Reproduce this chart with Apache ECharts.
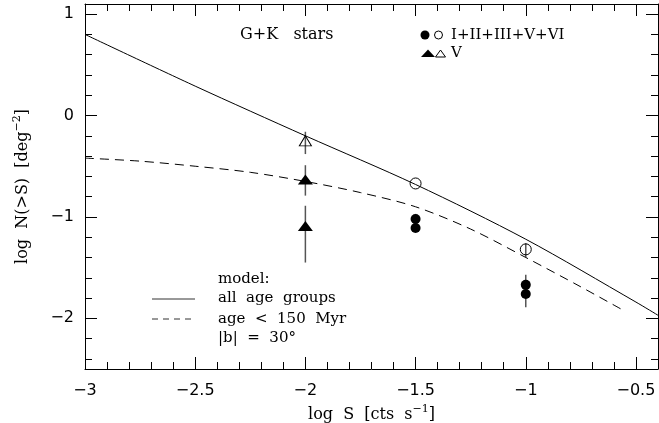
<!DOCTYPE html>
<html><head><meta charset="utf-8">
<script src="https://cdn.jsdelivr.net/npm/echarts@6/dist/echarts.min.js"></script>
<style>html,body{margin:0;padding:0;background:#fff}#c{width:659px;height:423px}</style>
</head><body><div id="c"></div>
<script>
// ---- data ----
const modelAllX = [-3, -2.5, -2, -1.5, -1, -0.5, -0.4];
const modelAllY = [0.80, 0.29, -0.20, -0.68, -1.22, -1.84, -1.97];
const modelYoungX = [-3, -2.75, -2.5, -2.25, -2, -1.75, -1.5, -1.25, -1, -0.75, -0.55];
const modelYoungY = [-0.42, -0.45, -0.50, -0.56, -0.65, -0.76, -0.90, -1.12, -1.40, -1.69, -1.93];
const filledCircleX = [-1.5, -1.5, -1, -1];
const filledCircleY = [-1.02, -1.11, -1.67, -1.76];
const openCircleX = [-1.5, -1];
const openCircleY = [-0.67, -1.32];
const filledTriX = [-2, -2];
const filledTriY = [-0.63, -1.09];
const openTriX = [-2];
const openTriY = [-0.25];
const errX  = [-2, -2, -2, -1.5, -1, -1];
const errLo = [-0.38, -0.79, -1.45, -1.15, -1.40, -1.89];
const errHi = [-0.16, -0.49, -0.89, -0.97, -1.26, -1.57];
const xMajorTicks = [-3, -2.5, -2, -1.5, -1, -0.5];
const xMinorTicks = [-2.9, -2.8, -2.7, -2.6, -2.4, -2.3, -2.2, -2.1, -1.9, -1.8, -1.7, -1.6,
                     -1.4, -1.3, -1.2, -1.1, -0.9, -0.8, -0.7, -0.6];
const yMajorTicks = [-2, -1, 0, 1];
const yMinorTicks = [-2.4, -2.2, -1.8, -1.6, -1.4, -1.2, -0.8, -0.6, -0.4, -0.2,
                     0.2, 0.4, 0.6, 0.8];

const pair = (xs, ys) => xs.map((x, i) => [x, ys[i]]);
const minus = v => String(v).replace('-', '\u2212');
const SERIF = 'DejaVu Serif';
const SANS = 'DejaVu Sans';

const gridBox = {left: 85, right: 1, top: 4, bottom: 54, containLabel: false, outerBoundsMode: 'none'};
const base = {type: 'value', splitLine: {show: false}};
const XMIN = -3, XMAX = -0.4, YMIN = -2.5, YMAX = 1.1;

function xAx(grid, pos, major) {
  return Object.assign({}, base, {
    gridIndex: grid, position: pos, min: XMIN, max: XMAX,
    axisLine: {show: major, onZero: false, lineStyle: {color: '#000', width: 1}},
    axisTick: {show: true, inside: true, length: major ? 12 : 7,
      customValues: major ? xMajorTicks : xMinorTicks, lineStyle: {color: '#000', width: 1}},
    axisLabel: (major && pos === 'bottom') ? {show: true, customValues: xMajorTicks, formatter: minus,
      fontFamily: SANS, fontSize: 16, color: '#000', margin: 14} : {show: false},
    name: (major && pos === 'bottom') ? '{t|log  S  [cts  s}{s|\u22121}{t|]}' : '',
    nameLocation: 'middle', nameGap: 30,
    nameTextStyle: {rich: {
      t: {fontFamily: SERIF, fontSize: 16, color: '#000', lineHeight: 22},
      s: {fontFamily: SERIF, fontSize: 11, color: '#000', lineHeight: 12, verticalAlign: 'top'}
    }}
  });
}
function yAx(grid, pos, major) {
  return Object.assign({}, base, {
    gridIndex: grid, position: pos, min: YMIN, max: YMAX,
    axisLine: {show: major, onZero: false, lineStyle: {color: '#000', width: 1}},
    axisTick: {show: true, inside: true, length: major ? 12 : 7,
      customValues: major ? yMajorTicks : yMinorTicks, lineStyle: {color: '#000', width: 1}},
    axisLabel: (major && pos === 'left') ? {show: true, customValues: yMajorTicks, formatter: minus,
      fontFamily: SANS, fontSize: 16, color: '#000', margin: 11} : {show: false},
    name: (major && pos === 'left') ? '{t|log  N(>S)  [deg}{s|\u22122}{t|]}' : '',
    nameLocation: 'middle', nameGap: 51, nameRotate: 90,
    nameTextStyle: {rich: {
      t: {fontFamily: SERIF, fontSize: 16, color: '#000', lineHeight: 22},
      s: {fontFamily: SERIF, fontSize: 11, color: '#000', lineHeight: 12, verticalAlign: 'top'}
    }}
  });
}

const chart = echarts.init(document.getElementById('c'), null, {renderer: 'canvas'});
const openStyle = {color: 'rgba(0,0,0,0)', borderColor: '#000', borderWidth: 1, opacity: 1};
const fillStyle = {color: '#000', opacity: 1};
chart.setOption({
  animation: false,
  backgroundColor: '#fff',
  grid: [Object.assign({}, gridBox), Object.assign({}, gridBox)],
  xAxis: [xAx(0, 'bottom', true), xAx(0, 'top', true), xAx(1, 'bottom', false), xAx(1, 'top', false)],
  yAxis: [yAx(0, 'left', true), yAx(0, 'right', true), yAx(1, 'left', false), yAx(1, 'right', false)],
  series: [
    {type: 'line', name: 'all age groups', xAxisIndex: 0, yAxisIndex: 0, data: pair(modelAllX, modelAllY),
     showSymbol: false, smooth: 0.3, lineStyle: {color: '#000', width: 1}, silent: true},
    {type: 'line', name: 'age < 150 Myr', xAxisIndex: 0, yAxisIndex: 0, data: pair(modelYoungX, modelYoungY),
     showSymbol: false, smooth: 0.3, lineStyle: {color: '#000', width: 1, type: [9, 6]}, silent: true},
    {type: 'custom', name: 'errors', xAxisIndex: 0, yAxisIndex: 0,
     data: errX.map((x, i) => [x, errLo[i], errHi[i]]),
     renderItem: (params, api) => {
       const a = api.coord([api.value(0), api.value(1)]);
       const b = api.coord([api.value(0), api.value(2)]);
       return {type: 'line', shape: {x1: a[0], y1: a[1], x2: b[0], y2: b[1]},
               style: {stroke: '#555', lineWidth: 1.5}};
     }, silent: true, z: 1},
    {type: 'scatter', name: 'I+II+III+V+VI', xAxisIndex: 0, yAxisIndex: 0, data: pair(filledCircleX, filledCircleY),
     symbol: 'circle', symbolSize: 10, itemStyle: fillStyle, z: 3},
    {type: 'scatter', name: 'I+II+III+V+VI open', xAxisIndex: 0, yAxisIndex: 0, data: pair(openCircleX, openCircleY),
     symbol: 'circle', symbolSize: 11, itemStyle: openStyle, z: 3},
    {type: 'scatter', name: 'V', xAxisIndex: 0, yAxisIndex: 0, data: pair(filledTriX, filledTriY),
     symbol: 'triangle', symbolSize: [15, 10], itemStyle: fillStyle, z: 3},
    {type: 'scatter', name: 'V open', xAxisIndex: 0, yAxisIndex: 0, data: pair(openTriX, openTriY),
     symbol: 'triangle', symbolSize: [12, 10], itemStyle: openStyle, z: 3}
  ],
  graphic: [
    {type: 'text', x: 240, y: 35, style: {text: 'G+K   stars', font: '16px "DejaVu Serif"', fill: '#000', verticalAlign: 'middle'}},
    {type: 'circle', shape: {cx: 425, cy: 35, r: 4.5}, style: {fill: '#000'}},
    {type: 'circle', shape: {cx: 438.5, cy: 35, r: 4}, style: {fill: 'none', stroke: '#000', lineWidth: 1}},
    {type: 'text', x: 451, y: 35, style: {text: 'I+II+III+V+VI', font: '15px "DejaVu Serif"', fill: '#000', verticalAlign: 'middle'}},
    {type: 'polygon', shape: {points: [[421, 57], [435, 57], [428, 49.5]]}, style: {fill: '#000'}},
    {type: 'polygon', shape: {points: [[435.5, 57], [445.5, 57], [440.5, 50]]}, style: {fill: 'none', stroke: '#000', lineWidth: 1}},
    {type: 'text', x: 451, y: 53.5, style: {text: 'V', font: '15px "DejaVu Serif"', fill: '#000', verticalAlign: 'middle'}},
    {type: 'text', x: 218, y: 279, style: {text: 'model:', font: '15px "DejaVu Serif"', fill: '#000', verticalAlign: 'middle'}},
    {type: 'line', shape: {x1: 152, y1: 299, x2: 195, y2: 299}, style: {stroke: '#333', lineWidth: 1}},
    {type: 'text', x: 218, y: 298, style: {text: 'all  age  groups', font: '15px "DejaVu Serif"', fill: '#000', verticalAlign: 'middle'}},
    {type: 'line', shape: {x1: 152, y1: 319, x2: 195, y2: 319}, style: {stroke: '#333', lineWidth: 1, lineDash: [6, 5]}},
    {type: 'text', x: 218, y: 319, style: {text: 'age  <  150  Myr', font: '15px "DejaVu Serif"', fill: '#000', verticalAlign: 'middle'}},
    {type: 'text', x: 218, y: 338, style: {text: '|b|  =  30\u00B0', font: '15px "DejaVu Serif"', fill: '#000', verticalAlign: 'middle'}}
  ]
});
</script>
</body></html>
